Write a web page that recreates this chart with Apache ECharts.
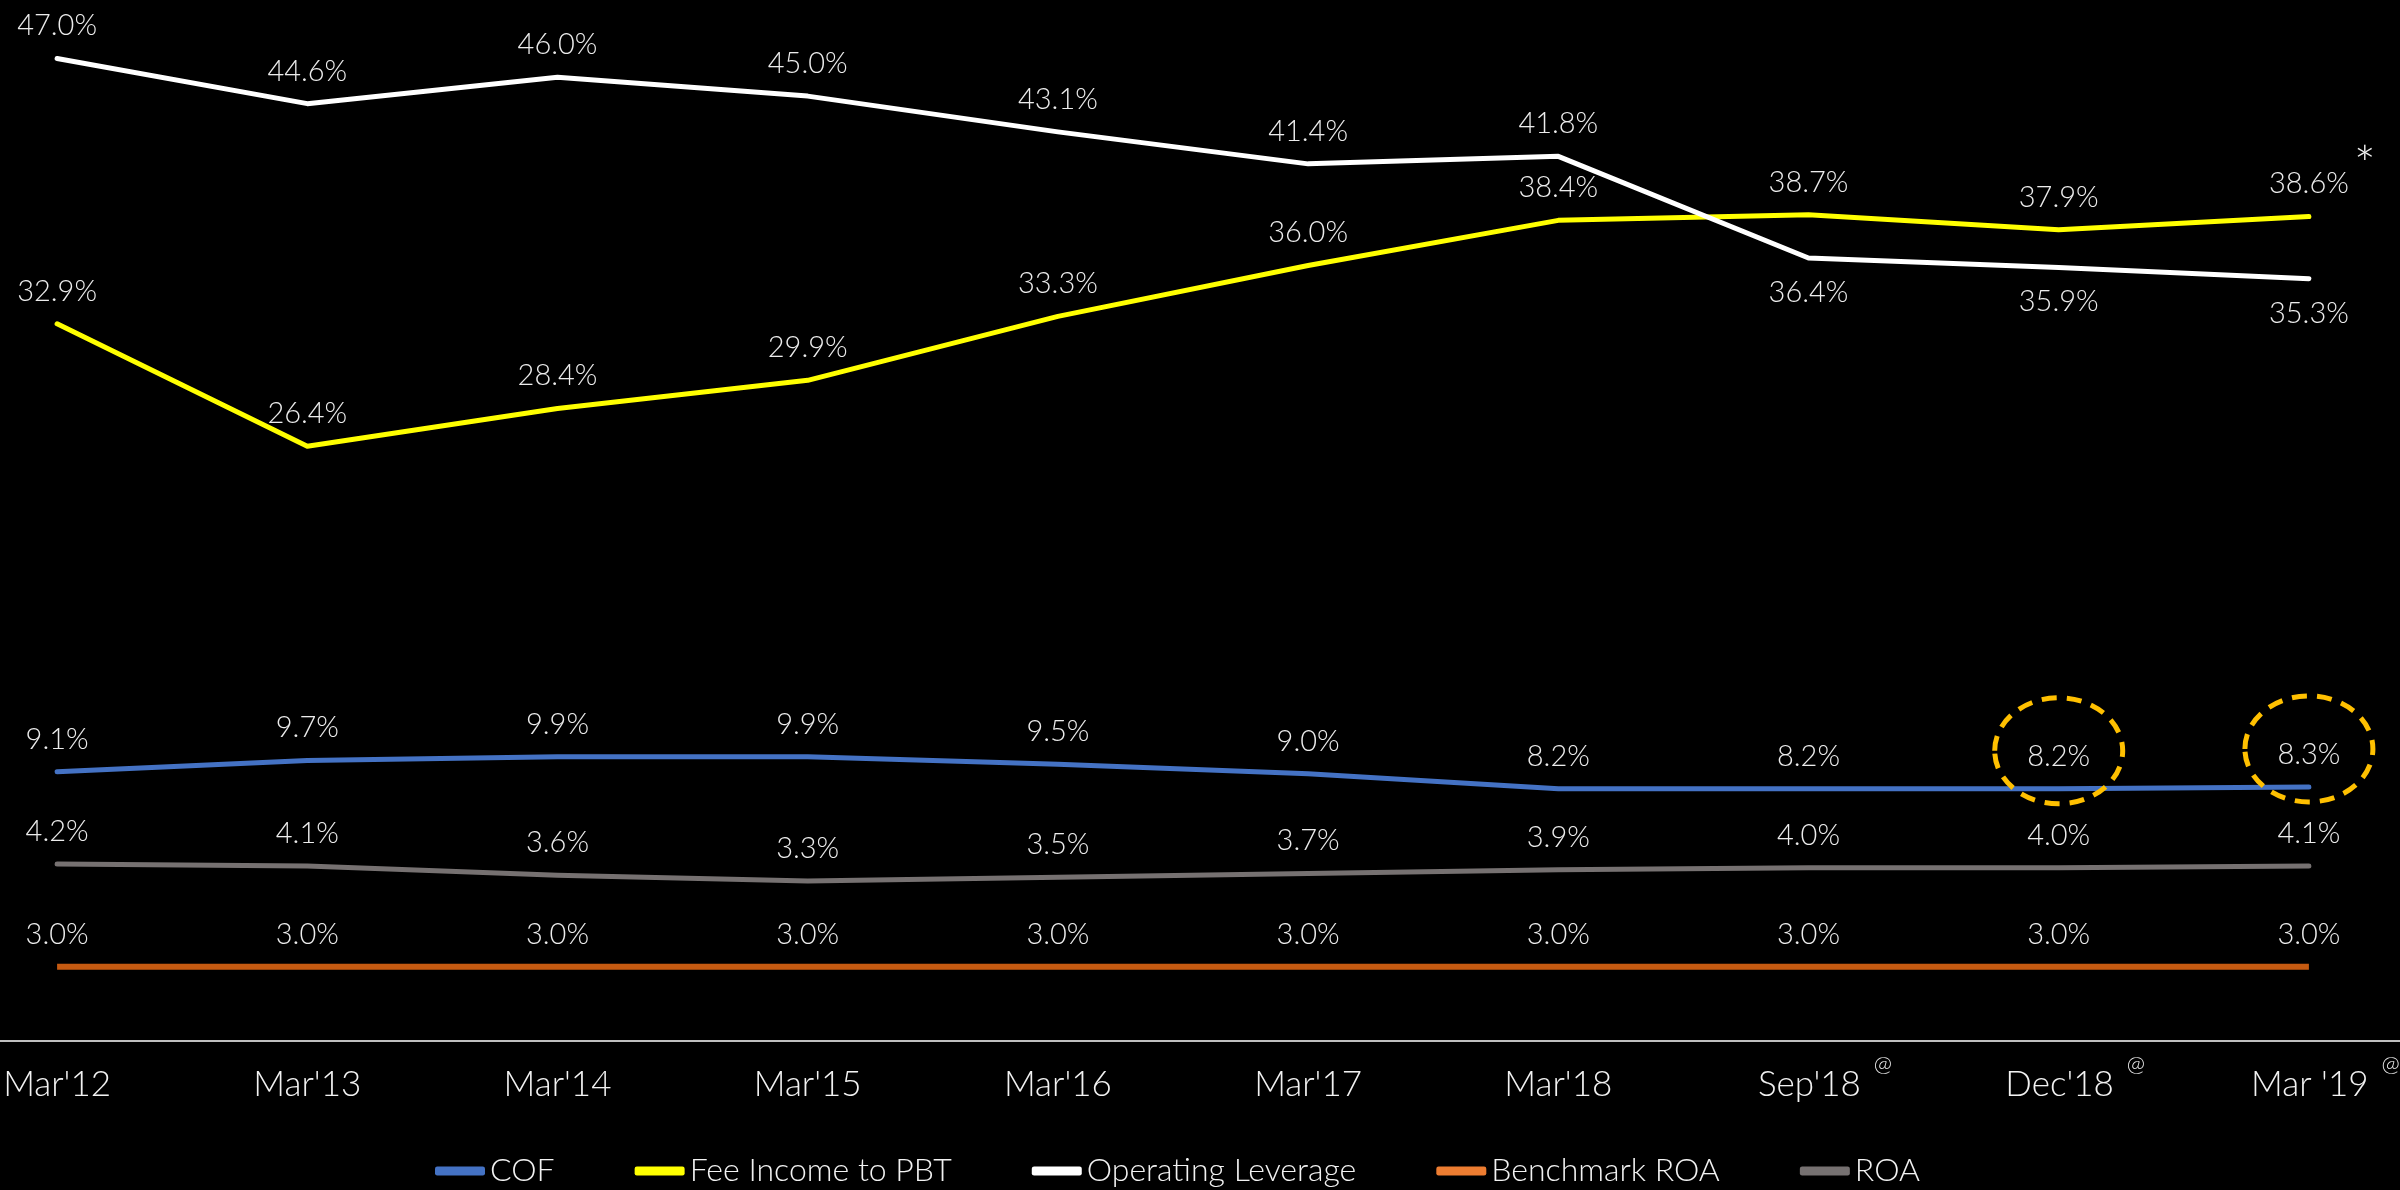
<!DOCTYPE html>
<html><head><meta charset="utf-8">
<script src="https://cdn.jsdelivr.net/npm/echarts@6/dist/echarts.min.js"></script>
<style>html,body{margin:0;padding:0;background:#000;}#c{width:2400px;height:1190px;}</style>
</head><body><div id="c"></div>
<script>
// ---- data ----
const categories = ["Mar'12","Mar'13","Mar'14","Mar'15","Mar'16","Mar'17","Mar'18","Sep'18","Dec'18","Mar '19"];
const superscriptCats = ["Sep'18","Dec'18","Mar '19"];
const cof = [9.1,9.7,9.9,9.9,9.5,9.0,8.2,8.2,8.2,8.3];
const feeIncomeToPbt = [32.9,26.4,28.4,29.9,33.3,36.0,38.4,38.7,37.9,38.6];
const operatingLeverage = [47.0,44.6,46.0,45.0,43.1,41.4,41.8,36.4,35.9,35.3];
const benchmarkRoa = [3.0,3.0,3.0,3.0,3.0,3.0,3.0,3.0,3.0,3.0];
const roa = [4.2,4.1,3.6,3.3,3.5,3.7,3.9,4.0,4.0,4.1];
const opLevLabelBelow = ["Sep'18","Dec'18","Mar '19"];
const circledCof = ["Dec'18","Mar '19"];
const asteriskAt = "Mar '19";

const labelFont = "Lato, 'Open Sans', sans-serif";
const narrowFont = "Lato, 'Open Sans', sans-serif";
const fmt = p => Number(p.value).toFixed(1) + '%';
const baseLabel = {show:true, position:'top', distance:18, fontFamily:labelFont, fontWeight:300, fontSize:29, color:'#ececec', formatter:fmt};

function mkSeries(name, data, color, width, yi, extra){
  return Object.assign({
    name, type:'line', data, yAxisIndex:yi||0, symbol:'circle', symbolSize:0, showSymbol:true, smooth:false,
    lineStyle:{color, width, cap:'round', join:'round'}, itemStyle:{color},
    label:baseLabel, animation:false
  }, extra||{});
}

const chart = echarts.init(document.getElementById('c'));
chart.setOption({
  backgroundColor:'#000',
  animation:false,
  grid:{left:-68, right:-34, top:2, bottom:149, containLabel:false, outerBoundsMode:'none'},
  xAxis:{type:'category', data:categories, boundaryGap:true,
    axisLine:{onZero:false, lineStyle:{color:'#bfbfbf', width:2}}, axisTick:{show:false},
    axisLabel:{interval:0, margin:12, color:'#f2f2f2', fontFamily:narrowFont, fontWeight:300, fontSize:35, lineHeight:64,
      formatter:v => superscriptCats.includes(v) ? '{sp| }{a|'+v+'}{s|@}' : '{a|'+v+'}',
      rich:{a:{fontFamily:narrowFont, fontWeight:300, fontSize:35, lineHeight:64, color:'#f2f2f2'},
            sp:{fontSize:22, lineHeight:22, width:33},
            s:{fontFamily:narrowFont, fontWeight:300, fontSize:22, lineHeight:22, color:'#f2f2f2', verticalAlign:'top', padding:[0,0,0,13]}}}},
  yAxis:[{type:'value', min:-5.2, max:50, show:false, splitLine:{show:false}},
         {type:'value', min:0, max:42, show:false, splitLine:{show:false}}],
  legend:{top:1150, left:430, icon:'roundRect', itemWidth:50, itemHeight:9, itemGap:80,
    textStyle:{color:'#f2f2f2', fontFamily:narrowFont, fontWeight:300, fontSize:32},
    data:['COF','Fee Income to PBT','Operating Leverage',{name:'Benchmark ROA', itemStyle:{color:'#ED7D31'}},'ROA']},
  series:[
    mkSeries('COF', cof, '#4472C4', 5),
    mkSeries('Fee Income to PBT', feeIncomeToPbt, '#FFFF00', 5),
    mkSeries('Operating Leverage', operatingLeverage.map((v,i)=> opLevLabelBelow.includes(categories[i]) ? {value:v, label:{position:'bottom', distance:20}} : v), '#FFFFFF', 5),
    mkSeries('Benchmark ROA', benchmarkRoa, '#C55A11', 6, 1, {lineStyle:{color:'#C55A11', width:6, cap:'butt'}}),
    mkSeries('ROA', roa, '#767171', 5)
  ]
});

// annotations placed from data coordinates
const gfx = [];
circledCof.forEach(c => {
  const i = categories.indexOf(c);
  const p = chart.convertToPixel({xAxisIndex:0, yAxisIndex:0}, [i, cof[i]]);
  gfx.push({type:'ellipse', shape:{cx:p[0], cy:p[1]-38, rx:64, ry:53}, z:100,
    style:{fill:null, stroke:'#FFC000', lineWidth:5, lineDash:[15,10]}});
});
{
  const i = categories.indexOf(asteriskAt);
  const p = chart.convertToPixel({xAxisIndex:0, yAxisIndex:0}, [i, feeIncomeToPbt[i]]);
  gfx.push({type:'text', x:p[0]+56, y:p[1]-50, z:100,
    style:{text:'*', fill:'#f2f2f2', fontSize:52, fontFamily:labelFont, fontWeight:300, align:'center', verticalAlign:'middle'}});
}
chart.setOption({graphic:gfx});
</script></body></html>
